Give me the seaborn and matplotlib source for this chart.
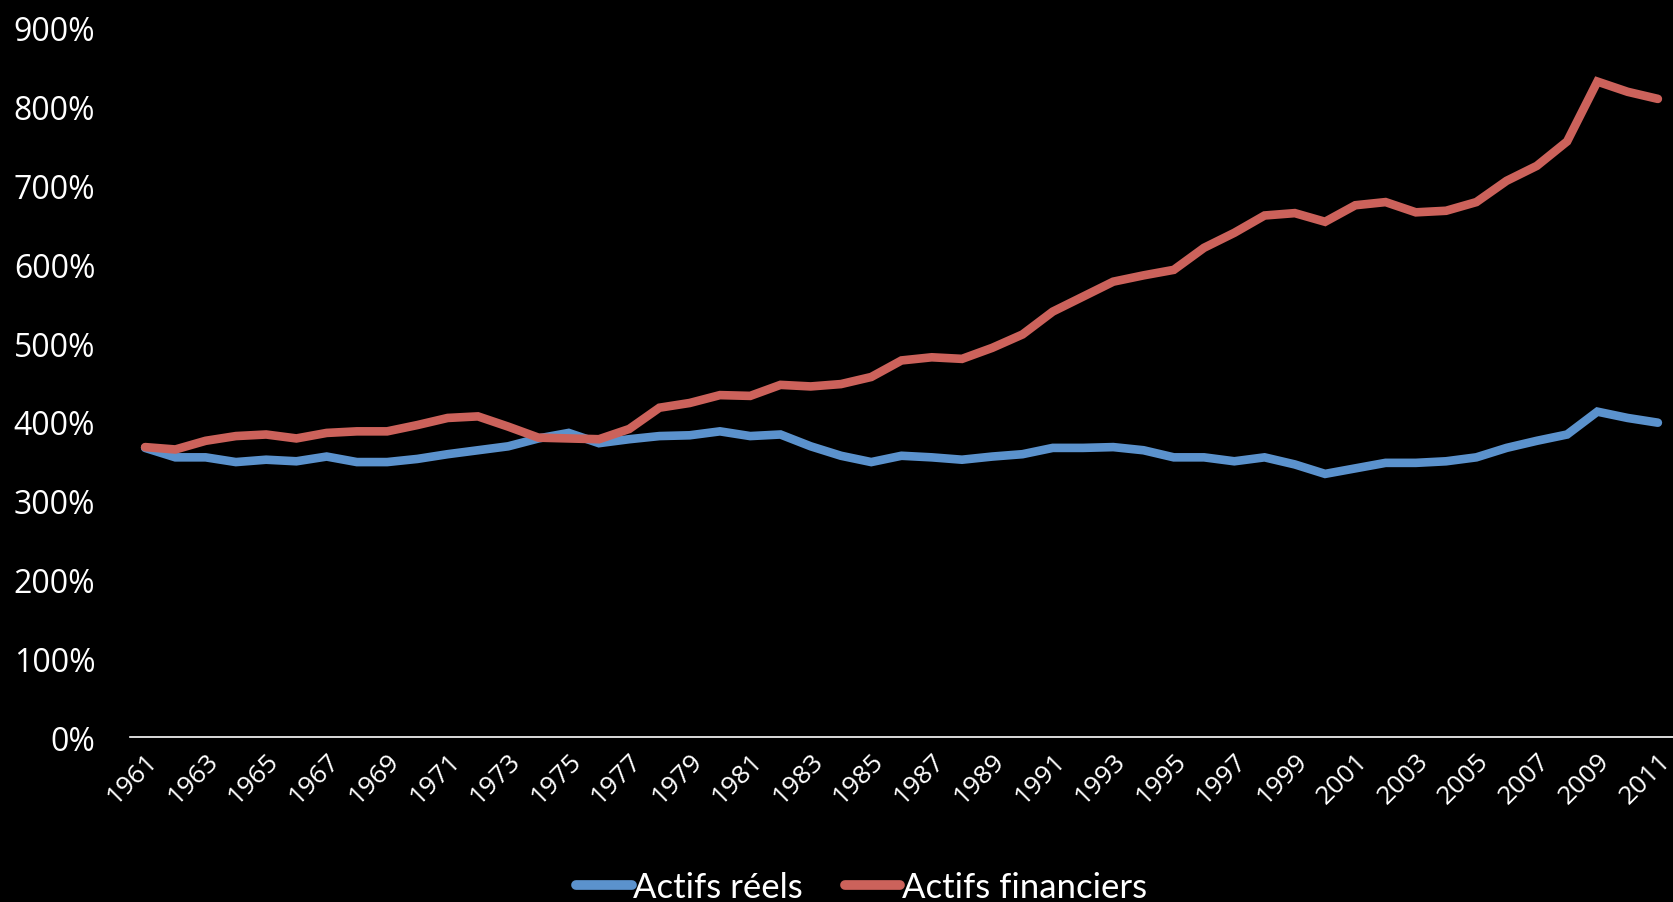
import pandas as pd
import matplotlib
matplotlib.use("Agg")
import matplotlib.pyplot as plt
import seaborn as sns

# Données (en % du revenu national)
annees = list(range(1961, 2012))
actifs_reels = [367, 355, 355, 349, 352, 350, 356, 349, 349, 353,
                359, 364, 369, 379, 386, 373, 378, 382, 383, 388,
                382, 384, 369, 357, 349, 357, 355, 352, 356, 359,
                367, 367, 368, 364, 355, 355, 350, 355, 346, 334,
                341, 348, 348, 350, 355, 367, 376, 384, 413, 405, 399]
actifs_financiers = [368, 365, 376, 382, 384, 379, 386, 388, 388, 396,
                     405, 407, 394, 380, 379, 378, 391, 418, 424, 434,
                     433, 447, 445, 448, 457, 478, 482, 480, 494, 511,
                     540, 559, 578, 586, 593, 621, 640, 662, 665, 654,
                     675, 679, 666, 668, 679, 706, 725, 756, 832, 819, 810]
series = ["Actifs réels", "Actifs financiers"]
couleurs = ["#5b92cd", "#cc625b"]
y_ticks = list(range(0, 1000, 100))

df = pd.DataFrame({
    "annee": annees * 2,
    "valeur": actifs_reels + actifs_financiers,
    "serie": [series[0]] * len(annees) + [series[1]] * len(annees),
})

sns.set_style("white")
plt.rcParams["font.family"] = ["Lato", "DejaVu Sans"]

fig = plt.figure(figsize=(16.73, 9.03), dpi=100, facecolor="black")
ax = fig.add_axes([0.0777, 0.1827, 0.9223, 0.7852])
ax.set_facecolor("black")

sns.lineplot(data=df, x="annee", y="valeur", hue="serie", hue_order=series,
             palette=couleurs, linewidth=6.2, ax=ax, legend=False,
             solid_capstyle="round", solid_joinstyle="miter")

ax.set_xlim(1960.5, 2011.5)
ax.set_ylim(0, 900)
ax.set_yticks(y_ticks)
ax.set_yticklabels([f"{v}%" for v in y_ticks], fontsize=23, color="white",
                   family="Open Sans")
ax.set_xticks(annees[::2])
ax.set_xticklabels([str(a) for a in annees[::2]], rotation=45, ha="right",
                   rotation_mode="anchor", fontsize=19, color="white",
                   family="Open Sans")
ax.tick_params(axis="y", length=0, pad=25)
ax.tick_params(axis="x", length=0, pad=8)
ax.set_xlabel("")
ax.set_ylabel("")

for s in ["top", "right", "left"]:
    ax.spines[s].set_visible(False)
ax.spines["bottom"].set_color("white")
ax.spines["bottom"].set_linewidth(1.2)

# Légende en bas
handles = [plt.Line2D([], [], color=c, linewidth=7, solid_capstyle="round")
           for c in couleurs]
leg = fig.legend(handles, series, loc="lower center", ncol=2,
                 bbox_to_anchor=(0.515, -0.036), frameon=False, fontsize=25,
                 handlelength=1.6, handletextpad=0.05, columnspacing=1.2)
for t in leg.get_texts():
    t.set_color("white")

fig.savefig("out.png", dpi=100, facecolor="black")
